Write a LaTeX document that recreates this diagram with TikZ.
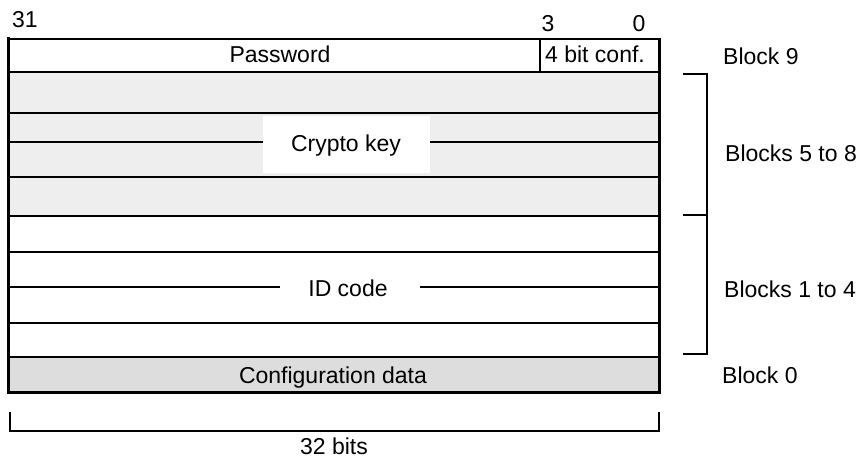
\documentclass[tikz,border=0pt]{standalone}
\usepackage{fontspec}
\setmainfont{Liberation Sans}
\definecolor{cryptofill}{HTML}{EEEEEE}
\definecolor{configfill}{HTML}{DDDDDD}
\begin{document}
\begin{tikzpicture}[x=1pt,y=-1pt,
  lbl/.style={font=\fontsize{23}{26}\selectfont, inner sep=0pt, anchor=base},
  lblw/.style={lbl, anchor=base west},
  sep/.style={line width=1.8pt},
  thicksep/.style={line width=2.8pt},
  border/.style={line width=3pt},
  brk/.style={line width=1.5pt}]
\useasboundingbox (0,0) rectangle (863,460);
% fills
\fill[cryptofill] (8,72) rectangle (659,216);
\fill[configfill] (8,357) rectangle (659,392);
% row lines
\draw[sep] (10,39) -- (659,39);
\draw[thicksep] (8,72) -- (659,72);
\draw[sep] (8,113) -- (659,113);
\draw[sep] (8,142) -- (659,142);
\draw[sep] (8,177) -- (659,177);
\draw[thicksep] (8,216) -- (659,216);
\draw[sep] (8,252) -- (659,252);
\draw[sep] (8,287) -- (659,287);
\draw[sep] (8,323) -- (659,323);
\draw[sep] (8,357) -- (659,357);
\draw[sep] (540,39) -- (540,72);
\draw[border] (8,37) -- (8,392) -- (659,392) -- (659,38);
% label gaps
\fill[white] (263,116) rectangle (430,173);
\fill[white] (280,270) rectangle (420,305);
% brackets
\draw[brk] (683,74) -- (707,74) -- (707,215) -- (683,215);
\draw[brk] (707,215) -- (707,354) -- (683,354);
\draw[brk] (10,412) -- (10,431) -- (659,431) -- (659,412);
% labels
\node[lbl] (b31) at (25,28) {31};
\node[lbl] (b3) at (548,32) {3};
\node[lbl] (b0) at (639,32) {0};
\node[lbl] (pw) at (280,63) {Password};
\node[lbl] (conf) at (595,63) {4 bit conf.};
\node[lblw] (blk9) at (723,65) {Block 9};
\node[lblw] (blk58) at (725,161) {Blocks 5 to 8};
\node[lbl] (crypto) at (346,151) {Crypto key};
\node[lbl] (id) at (348,296) {ID code};
\node[lblw] (blk14) at (724,297) {Blocks 1 to 4};
\node[lbl] (cfg) at (333,383) {Configuration data};
\node[lblw] (blk0) at (722,383) {Block 0};
\node[lbl] (bits) at (334,454) {32 bits};
\end{tikzpicture}
\end{document}
